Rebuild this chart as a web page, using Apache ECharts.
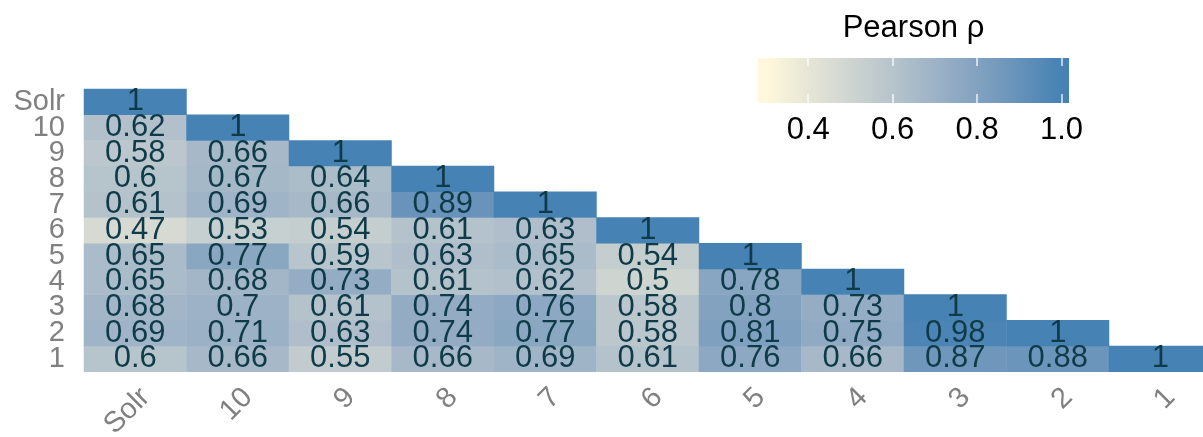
<!DOCTYPE html>
<html>
<head>
<meta charset="utf-8">
<script src="https://cdn.jsdelivr.net/npm/echarts@6/dist/echarts.min.js"></script>
<style>html,body{margin:0;padding:0;background:#fff}#c{width:1203px;height:437px}</style>
</head>
<body>
<div id="c"></div>
<script>
// Column categories (x, left to right)
const xCats = ['Solr', '10', '9', '8', '7', '6', '5', '4', '3', '2', '1'];
// Row categories (y, bottom to top)
const yCats = ['1', '2', '3', '4', '5', '6', '7', '8', '9', '10', 'Solr'];
// Lower-triangle rows (values from left column onward)
const rowSolr = [1];
const row10 = [0.62, 1];
const row9 = [0.58, 0.66, 1];
const row8 = [0.6, 0.67, 0.64, 1];
const row7 = [0.61, 0.69, 0.66, 0.89, 1];
const row6 = [0.47, 0.53, 0.54, 0.61, 0.63, 1];
const row5 = [0.65, 0.77, 0.59, 0.63, 0.65, 0.54, 1];
const row4 = [0.65, 0.68, 0.73, 0.61, 0.62, 0.5, 0.78, 1];
const row3 = [0.68, 0.7, 0.61, 0.74, 0.76, 0.58, 0.8, 0.73, 1];
const row2 = [0.69, 0.71, 0.63, 0.74, 0.77, 0.58, 0.81, 0.75, 0.98, 1];
const row1 = [0.6, 0.66, 0.55, 0.66, 0.69, 0.61, 0.76, 0.66, 0.87, 0.88, 1];
// Legend tick labels
const legendTicks = [0.4, 0.6, 0.8, 1.0];
const scaleMin = 0.3, scaleMax = 1.0;
const rampColors = ['#FFF8DC', '#DDDFD4', '#BBC7CD', '#98AFC5', '#7298BC', '#4682B4'];

const rowsByY = {'1': row1, '2': row2, '3': row3, '4': row4, '5': row5, '6': row6,
  '7': row7, '8': row8, '9': row9, '10': row10, 'Solr': rowSolr};
const data = [];
yCats.forEach((yc, yi) => {
  rowsByY[yc].forEach((v, xi) => data.push([xi, yi, v]));
});

const font = 'Liberation Sans, Arial, Helvetica, sans-serif';
const chart = echarts.init(document.getElementById('c'));

// legend bar geometry (bar extends half a bin beyond limits as in ggplot)
const lgLeft = 766, lgWidth = 295.5, barL = 758, barR = 1069, barT = 58, barH = 45;
const offsets = rampColors.map((c, i) => ({
  offset: ((lgLeft - barL) + i / (rampColors.length - 1) * lgWidth) / (barR - barL),
  color: c
}));

chart.setOption({
  animation: false,
  backgroundColor: '#fff',
  grid: [
    {left: 84, top: 89, width: 1127.5, height: 282.7, containLabel: false, outerBoundsMode: 'none'},
    {left: lgLeft, top: barT, width: lgWidth, height: barH, outerBoundsMode: 'none'}
  ],
  xAxis: [
    {type: 'category', data: xCats, gridIndex: 0, position: 'bottom',
      axisLine: {show: false}, axisTick: {show: false}, splitLine: {show: false},
      axisLabel: {interval: 0, rotate: 45, margin: 11, verticalAlign: 'top', lineHeight: 29,
        color: '#808080', fontSize: 29, fontFamily: font}},
    {type: 'value', gridIndex: 1, min: scaleMin, max: scaleMax, position: 'bottom', z: 10,
      axisLine: {show: false}, splitLine: {show: false},
      axisTick: {show: true, inside: true, length: 9, customValues: legendTicks,
        lineStyle: {color: 'rgba(255,255,255,0.85)', width: 1.5}},
      axisLabel: {show: true, customValues: legendTicks, margin: 12, color: '#000',
        fontSize: 31, fontFamily: font, formatter: v => v.toFixed(1)}},
    {type: 'value', gridIndex: 1, min: scaleMin, max: scaleMax, position: 'top', z: 10,
      axisLine: {show: false}, splitLine: {show: false},
      axisTick: {show: true, inside: true, length: 8, customValues: legendTicks,
        lineStyle: {color: 'rgba(255,255,255,0.85)', width: 1.5}},
      axisLabel: {show: false}}
  ],
  yAxis: [
    {type: 'category', data: yCats, gridIndex: 0,
      axisLine: {show: false}, axisTick: {show: false}, splitLine: {show: false},
      axisLabel: {interval: 0, margin: 19, color: '#808080', fontSize: 29, fontFamily: font}},
    {type: 'value', gridIndex: 1, show: false, min: 0, max: 1}
  ],
  visualMap: {
    show: false, type: 'continuous', min: scaleMin, max: scaleMax, seriesIndex: 0,
    inRange: {color: rampColors}
  },
  graphic: [
    {type: 'rect', z: 1, shape: {x: barL, y: barT, width: barR - barL, height: barH},
      style: {fill: new echarts.graphic.LinearGradient(0, 0, 1, 0, offsets)}},
    {type: 'text', z: 2, x: (barL + barR) / 2, y: 13,
      style: {text: 'Pearson ρ', fill: '#000', fontSize: 31, fontFamily: font,
        align: 'center', verticalAlign: 'top'}}
  ],
  series: [{
    type: 'heatmap', xAxisIndex: 0, yAxisIndex: 0, data: data,
    itemStyle: {borderWidth: 0},
    label: {show: true, color: '#0F3B49', fontSize: 31, fontFamily: font,
      formatter: p => String(p.value[2])},
    emphasis: {disabled: true}
  }]
});
</script>
</body>
</html>
